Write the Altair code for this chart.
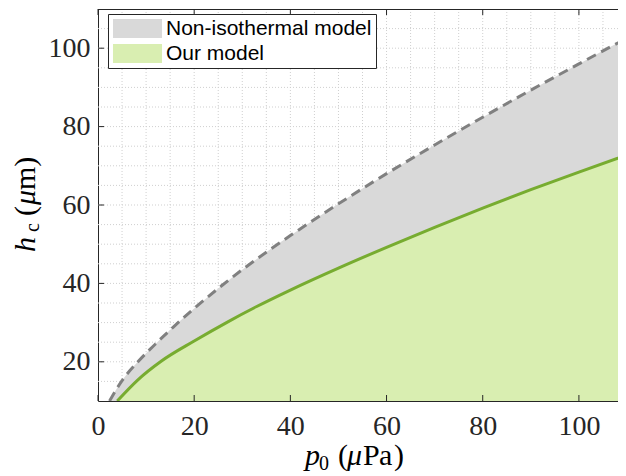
import altair as alt
import pandas as pd

# ---------------- data ----------------
series_names = ["Non-isothermal model", "Our model"]
p_noniso = [2.4, 5, 8.3, 12, 15.6, 20, 25.7, 30, 35.4, 40, 50, 55, 60, 70, 80, 90, 100, 110]
h_noniso = [10, 15.2, 20, 24.6, 28.8, 33.6, 39.4, 43.5, 48.3, 52.2, 60.3, 64.2, 68.0, 75.3, 82.4, 89.3, 96.0, 102.6]
p_ours = [4, 8.3, 13.2, 20, 27, 33, 40, 50, 60, 70, 80, 90, 100, 110]
h_ours = [10, 15.4, 20.2, 25.3, 30.2, 34.1, 38.3, 43.9, 49.2, 54.3, 59.2, 63.9, 68.4, 72.8]
x_ticks = [0, 20, 40, 60, 80, 100]
y_ticks = [20, 40, 60, 80, 100]
x_grid = list(range(5, 110, 5))
y_grid = list(range(15, 110, 5))

# ---------------- layout / style ----------------
W, H = 520, 392          # visible view (page is 610 px wide inside its margins)
XR = 529                 # pixel length of the 0..110 x range (runs past the page edge)
AX = "#262626"
GRAY_FILL = "#d9d9d9"
GREEN_FILL = "#d9eeb1"
GREEN_LINE = "#77ac30"
DASH_LINE = "#808080"
SERIF = "Liberation Serif"

df_non = pd.DataFrame({"p": p_noniso, "h": h_noniso, "model": series_names[0]})
df_our = pd.DataFrame({"p": p_ours, "h": h_ours, "model": series_names[1]})
df_xt = pd.DataFrame({"t": x_ticks})
df_yt = pd.DataFrame({"t": y_ticks})
df_xg = pd.DataFrame({"g": x_grid})
df_yg = pd.DataFrame({"g": y_grid})
one = alt.Data(values=[{"k": 0}])

xscale = alt.Scale(domain=[0, 110], range=[0, XR], nice=False, zero=False)
yscale = alt.Scale(domain=[10, 110], nice=False, zero=False)
xaxis = alt.Axis(values=x_ticks, title=None, grid=False, ticks=False, tickSize=0,
                 labelFont=SERIF, labelFontSize=28, labelColor=AX, labelPadding=11,
                 domainColor=AX, domainWidth=1, labelFlush=False)
yaxis = alt.Axis(values=y_ticks, title=None, grid=False, ticks=False, tickSize=0,
                 labelFont=SERIF, labelFontSize=28, labelColor=AX, labelPadding=8,
                 domainColor=AX, domainWidth=1, labelFlush=False)


def X(f):
    return alt.X(f, type="quantitative", scale=xscale, axis=xaxis)


def Y(f):
    return alt.Y(f, type="quantitative", scale=yscale, axis=yaxis)


color = alt.Color(
    "model:N",
    scale=alt.Scale(domain=series_names, range=[GRAY_FILL, GREEN_FILL]),
    legend=alt.Legend(
        title=None, orient="none", legendX=10, legendY=5,
        symbolType="M-2.58,-1H2.58V1H-2.58Z", symbolSize=361, symbolStrokeWidth=0,
        symbolOpacity=1, symbolOffset=15, labelOffset=18,
        labelFont="Liberation Sans", labelFontSize=21, labelColor="#000000", labelLimit=400,
        rowPadding=3, padding=4, strokeColor=AX, fillColor="#ffffff", cornerRadius=0,
    ),
)

grid_x = alt.Chart(df_xg).mark_rule(color="#cfcfcf", strokeDash=[1, 2], strokeWidth=1).encode(
    x=X("g"))
grid_y = alt.Chart(df_yg).mark_rule(color="#cfcfcf", strokeDash=[1, 2], strokeWidth=1).encode(
    y=Y("g"))

area_non = alt.Chart(df_non).mark_area(clip=True, opacity=1, interpolate="monotone").encode(
    x=X("p"), y=Y("h"), y2=alt.datum(0), color=color)
area_our = alt.Chart(df_our).mark_area(clip=True, opacity=1, interpolate="monotone").encode(
    x=X("p"), y=Y("h"), y2=alt.datum(0), color=color)
line_non = alt.Chart(df_non).mark_line(clip=True, color=DASH_LINE, strokeWidth=3,
                                        strokeDash=[10, 6], interpolate="monotone").encode(
    x=X("p"), y=Y("h"))
line_our = alt.Chart(df_our).mark_line(clip=True, color=GREEN_LINE, strokeWidth=3,
                                        interpolate="monotone").encode(x=X("p"), y=Y("h"))

top_border = alt.Chart(one).mark_rule(color=AX, strokeWidth=1).encode(
    x=alt.value(0), x2=alt.value(W), y=alt.value(0.5))

tick_b = alt.Chart(df_xt).mark_rule(color=AX, strokeWidth=1).encode(
    x=X("t"), y=alt.value(H), y2=alt.value(H - 6))
tick_t = alt.Chart(df_xt).mark_rule(color=AX, strokeWidth=1).encode(
    x=X("t"), y=alt.value(0), y2=alt.value(6))
tick_l = alt.Chart(df_yt).mark_rule(color=AX, strokeWidth=1).encode(
    y=Y("t"), x=alt.value(0), x2=alt.value(6))


def txt(s, x, y, size=30, italic=False, angle=0):
    kw = dict(text=s, x=x, y=y, font=SERIF, fontSize=size, color="#000000",
              align="left", baseline="alphabetic")
    if italic:
        kw["fontStyle"] = "italic"
    if angle:
        kw["angle"] = angle
    return alt.Chart(one).mark_text(**kw).encode(opacity=alt.value(1))


titles = [
    # x title: p_0 (μPa)
    txt("p", 207, 456, italic=True),
    txt("0", 221, 461, size=20),
    txt("(", 240, 456),
    txt("μ", 249, 456, italic=True),
    txt("P", 265, 456),
    txt("a", 281, 456),
    txt(")", 296, 456),
    # y title: h_c (μm)
    txt("h", -63, 243, italic=True, angle=270),
    txt("c", -59.5, 223, size=20, angle=270),
    txt("(", -63, 207, angle=270),
    txt("μ", -63, 196, italic=True, angle=270),
    txt("m)", -63, 181, angle=270),
]

chart = alt.layer(
    grid_x, grid_y, area_non, area_our, line_non, line_our,
    top_border, tick_b, tick_t, tick_l, *titles
).properties(
    width=W, height=H,
    autosize=alt.AutoSizeParams(type="none"),
    padding={"left": 90, "top": 1, "right": 0, "bottom": 76},
    background="#ffffff",
).configure_view(stroke=None)

chart.save("out.html", embed_options={"renderer": "svg", "actions": False})
